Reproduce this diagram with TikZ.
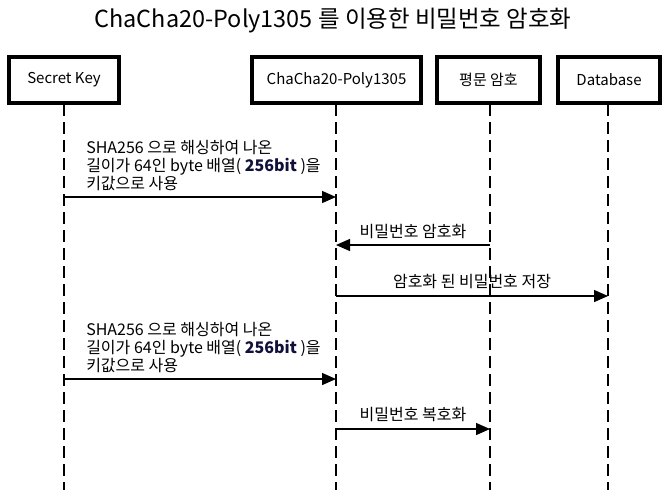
\documentclass[tikz,border=0pt]{standalone}
\usepackage{fontspec}
\setmainfont{Noto Sans CJK KR}
\usetikzlibrary{arrows.meta}
\definecolor{bitcol}{HTML}{10103A}
\begin{document}
\begin{tikzpicture}[x=0.75pt,y=-0.75pt,
  lbl/.style={font=\fontsize{12pt}{13.2pt}\selectfont, inner sep=0pt},
  actor/.style={draw, line width=2.4pt, minimum height=34.5pt, inner sep=0pt, font=\fontsize{11.25pt}{12pt}\selectfont},
  life/.style={line width=0.8pt, dash pattern=on 9pt off 4.5pt},
  msg/.style={line width=1pt, -{Triangle[length=10.5pt,width=9pt]}},
  txt/.style={lbl, align=left, anchor=base west}]
\path[use as bounding box] (0,0) rectangle (666,490);
\node[font=\fontsize{17.6pt}{20pt}\selectfont, inner sep=0pt] (title) at (333,21) {ChaCha20-Poly1305 를 이용한 비밀번호 암호화};

\node[actor, minimum width=82.5pt] (sk) at (64,80) {Secret Key};
\node[actor, minimum width=126.75pt] (cc) at (336.5,80) {ChaCha20-Poly1305};
\node[actor, minimum width=77.25pt] (pa) at (488.5,80) {평문 암호};
\node[actor, minimum width=76.5pt] (db) at (609,80) {Database};

\coordinate (skS) at (64,104);
\coordinate (ccS) at (336,104);
\coordinate (paS) at (490,104);
\coordinate (dbS) at (608,104);
\coordinate (skE) at (64,490);
\coordinate (ccE) at (336,490);
\coordinate (paE) at (490,490);
\coordinate (dbE) at (608,490);
\draw[life] (skS) -- (skE);
\draw[life] (ccS) -- (ccE);
\draw[life] (paS) -- (paE);
\draw[life] (dbS) -- (dbE);

% message 1
\coordinate (m1a) at (64,197);
\coordinate (m1b) at (336,197);
\draw[msg] (m1a) -- (m1b);
\node[txt] (t1) at (86,189) {SHA256 으로 해싱하여 나온\\길이가 64인 byte 배열( \textbf{\textcolor{bitcol}{256bit}} )을\\키값으로 사용};

% message 2
\coordinate (m2a) at (490,245);
\coordinate (m2b) at (336,245);
\draw[msg] (m2a) -- (m2b);
\node[lbl, anchor=base] (t2) at (413,237) {비밀번호 암호화};

% message 3
\coordinate (m3a) at (336,296);
\coordinate (m3b) at (608,296);
\draw[msg] (m3a) -- (m3b);
\node[lbl, anchor=base] (t3) at (472,287) {암호화 된 비밀번호 저장};

% message 4
\coordinate (m4a) at (64,379);
\coordinate (m4b) at (336,379);
\draw[msg] (m4a) -- (m4b);
\node[txt] (t4) at (86,371) {SHA256 으로 해싱하여 나온\\길이가 64인 byte 배열( \textbf{\textcolor{bitcol}{256bit}} )을\\키값으로 사용};

% message 5
\coordinate (m5a) at (336,429);
\coordinate (m5b) at (490,429);
\draw[msg] (m5a) -- (m5b);
\node[lbl, anchor=base] (t5) at (413,420) {비밀번호 복호화};
\end{tikzpicture}
\end{document}
